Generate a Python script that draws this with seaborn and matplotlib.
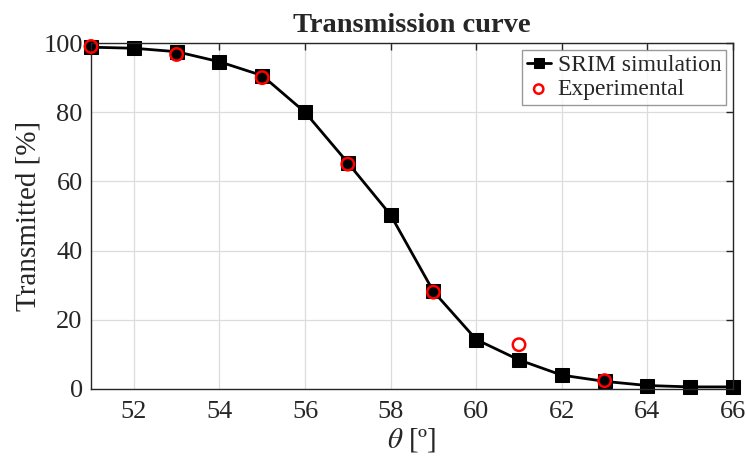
import matplotlib
matplotlib.use("Agg")
import matplotlib.pyplot as plt
import seaborn as sns
import pandas as pd

theta_sim = [51, 52, 53, 54, 55, 56, 57, 58, 59, 60, 61, 62, 63, 64, 65, 66]
trans_sim = [98.8, 98.5, 97.5, 94.6, 90.6, 80.0, 65.4, 50.3, 28.2, 14.3, 8.4, 4.0, 2.2, 1.0, 0.6, 0.6]
theta_exp = [51, 53, 55, 57, 59, 61, 63]
trans_exp = [99.0, 96.7, 90.0, 65.0, 28.0, 12.8, 2.4]
xticks = [52, 54, 56, 58, 60, 62, 64, 66]
yticks = [0, 20, 40, 60, 80, 100]

sns.set_theme(style="white")
plt.rcParams["font.family"] = ["Liberation Serif", "DejaVu Serif"]
plt.rcParams["mathtext.fontset"] = "stix"

df_sim = pd.DataFrame({"theta": theta_sim, "T": trans_sim})
df_exp = pd.DataFrame({"theta": theta_exp, "T": trans_exp})

fig = plt.figure(figsize=(7.46, 4.58), dpi=100)
ax = fig.add_axes([0.122, 0.1507, 0.8606, 0.7553])

sns.lineplot(data=df_sim, x="theta", y="T", ax=ax, color="black", linewidth=2,
             marker="s", markersize=9.5, markeredgecolor="black", label="SRIM simulation")
sns.scatterplot(data=df_exp, x="theta", y="T", ax=ax, marker="o", s=80,
                facecolors="none", edgecolor="red", linewidth=1.8, label="Experimental", zorder=5)
for ln in ax.lines:
    ln.set_clip_on(False)
for c in ax.collections:
    c.set_clip_on(False)

ax.set_xlim(51, 66)
ax.set_ylim(0, 100)
ax.set_xticks(xticks)
ax.set_yticks(yticks)
ax.grid(True, color="#dcdcdc", linewidth=0.9)
ax.set_axisbelow(True)
for s in ax.spines.values():
    s.set_color("#262626")
    s.set_linewidth(1.0)
ax.tick_params(direction="in", length=5, width=1.0, colors="#262626",
               labelsize=19, top=True, right=True, pad=6)
ax.tick_params(axis="x", pad=9)
for lab in ax.get_xticklabels() + ax.get_yticklabels():
    lab.set_color("#262626")

ax.set_xlabel(r"$\theta$ [º]", fontsize=21, color="#262626", labelpad=2)
ax.set_ylabel("Transmitted [%]", fontsize=21, color="#262626", labelpad=1)
ax.set_title("Transmission curve", fontsize=20.5, fontweight="bold", pad=8)

leg = ax.legend(loc="upper right", fontsize=17, frameon=True, fancybox=False,
                borderpad=0.2, labelspacing=0.1, handlelength=1.0, handletextpad=0.3,
                borderaxespad=0.3, markerscale=0.75)
leg.get_frame().set_edgecolor("#808080")
leg.get_frame().set_linewidth(1.0)

fig.savefig("out.png", dpi=100)
